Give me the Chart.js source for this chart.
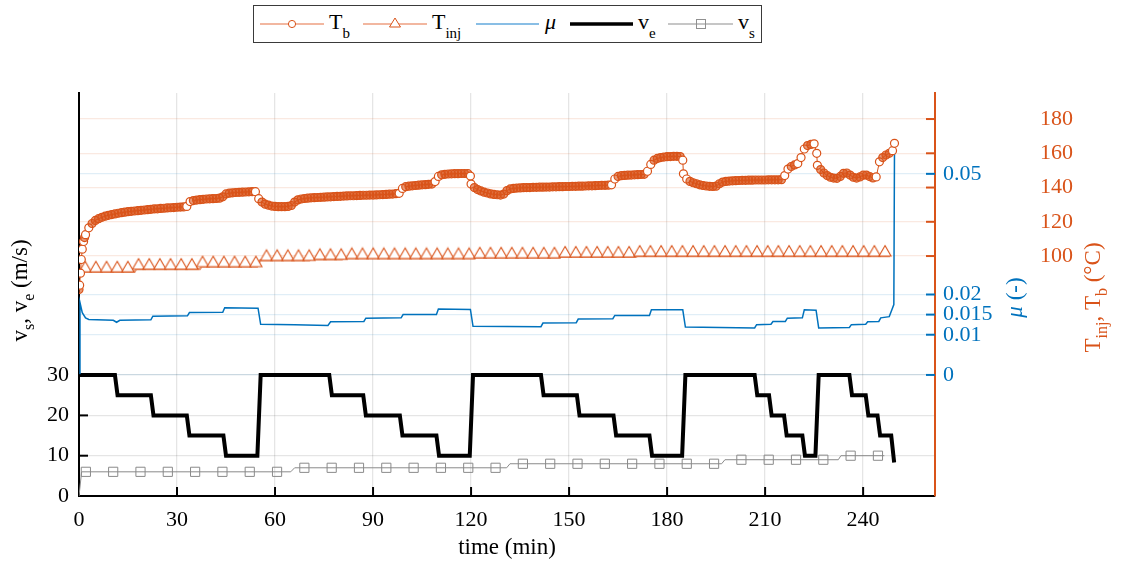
<!DOCTYPE html>
<html>
<head>
<meta charset="utf-8">
<script src="https://cdn.jsdelivr.net/npm/chart.js@4.4.1/dist/chart.umd.min.js"></script>
<style>
  body { margin: 0; background: #fff; }
  #wrap { position: relative; width: 1121px; height: 563px; }
  #legend { position: absolute; left: 253px; top: 5px; }
</style>
</head>
<body>
<div id="wrap">
  <canvas id="chart" width="1121" height="563"></canvas>
  <svg id="legend" width="510" height="39" font-family="Liberation Serif" font-size="22">
    <rect x="0.5" y="0.5" width="508" height="37" fill="#fff" stroke="#3a3a3a" stroke-width="1"/>
    <line x1="7" y1="19" x2="71" y2="19" stroke="#ee9f80" stroke-width="1.5"/>
    <circle cx="39" cy="19" r="3.6" fill="#fff" stroke="#D95319"/>
    <text x="76" y="24">T<tspan font-size="15" dy="9">b</tspan></text>
    <line x1="110" y1="19" x2="174" y2="19" stroke="#ee9f80" stroke-width="1.5"/>
    <polygon points="142,13 147.5,22 136.5,22" fill="#fff" stroke="#D95319"/>
    <text x="179" y="24">T<tspan font-size="15" dy="9">inj</tspan></text>
    <line x1="223" y1="19" x2="286" y2="19" stroke="#62a8dc" stroke-width="1.5"/>
    <text x="292" y="24" font-style="italic">μ</text>
    <line x1="317" y1="19" x2="380" y2="19" stroke="#000" stroke-width="3.5"/>
    <text x="385" y="24">v<tspan font-size="15" dy="9">e</tspan></text>
    <line x1="415" y1="19" x2="480" y2="19" stroke="#b3b3b3" stroke-width="1.5"/>
    <rect x="443.5" y="14.5" width="9" height="9" fill="none" stroke="#909090"/>
    <text x="485" y="24">v<tspan font-size="15" dy="9">s</tspan></text>
  </svg>
</div>
<script>
const ORANGE = "#D95319";
const BLUE = "#0072BD";

// axis ticks
const timeTicks = [0, 30, 60, 90, 120, 150, 180, 210, 240];
const vTicks = [0, 10, 20, 30];
const muTicks = [0, 0.01, 0.015, 0.02, 0.05];
const tempTicks = [100, 120, 140, 160, 180];

// T_b, one value per minute from t = 0 to 249
const tbPerMinute = [
  80.5, 104, 112.5, 116.5, 119, 120.8, 121.8, 122.6, 123.3, 123.8,
  124.2, 124.6, 125, 125.3, 125.6, 125.9, 126.1, 126.3, 126.5, 126.7,
  126.9, 127.1, 127.3, 127.5, 127.6, 127.8, 127.9, 128.1, 128.2, 128.3,
  128.5, 128.6, 128.7, 129, 131.8, 132.4, 132.7, 132.9, 133.1, 133.3,
  133.4, 133.5, 133.6, 133.8, 134.6, 136.3, 136.7, 136.9, 137.1, 137.2,
  137.3, 137.4, 137.5, 137.6, 137.6, 133.5, 131.5, 130.3, 129.7, 129.2,
  129, 128.8, 128.8, 128.8, 129, 129.5, 131.5, 132.8, 133.3, 133.6,
  133.8, 134, 134.1, 134.2, 134.3, 134.4, 134.5, 134.6, 134.7, 134.8,
  134.9, 135, 135.1, 135.2, 135.2, 135.3, 135.4, 135.5, 135.5, 135.6,
  135.6, 135.7, 135.8, 135.9, 136, 136.1, 136.2, 136.4, 136.6, 139.5,
  140.5, 140.8, 141, 141.2, 141.4, 141.6, 141.7, 141.9, 142, 143.5,
  146.5, 147.4, 147.7, 147.9, 148, 148.1, 148.1, 148.2, 148.2, 148.2,
  142, 140, 138.8, 138, 137.3, 136.8, 136.3, 136, 135.8, 135.6,
  136.2, 138.2, 139.2, 139.5, 139.7, 139.8, 139.9, 140, 140, 140.1,
  140.1, 140.2, 140.2, 140.3, 140.3, 140.4, 140.4, 140.5, 140.5, 140.6,
  140.6, 140.7, 140.7, 140.8, 140.8, 140.9, 141, 141, 141.1, 141.2,
  141.3, 141.3, 141.4, 141.6, 145, 146.5, 146.9, 147.1, 147.2, 147.3,
  147.4, 147.5, 147.6, 147.7, 149.5, 153.5, 156, 157, 157.5, 157.8,
  158, 158.1, 158.2, 158.2, 158.1, 148, 145, 143.6, 142.8, 142.2,
  141.6, 141.2, 140.9, 140.7, 140.6, 140.8, 142.2, 143.2, 143.6, 143.8,
  143.9, 144, 144.1, 144.2, 144.2, 144.3, 144.3, 144.4, 144.4, 144.4,
  144.4, 144.5, 144.5, 144.5, 144.5, 144.6, 147, 150.8, 152.3, 153.2,
  154, 157.5, 162.5, 164.5, 165.2, 165.5, 153, 150.5, 148.5, 147,
  146, 145.5, 145.4, 146.5, 148.3, 148.5, 147.3, 146, 145.5, 146.2,
  147.2, 147.3, 146.4, 145.6, 146.2, 155, 157.5, 159, 160, 161.5
];
// extra T_b samples on the fast transients [t, T]
const tbFast = [[0.2, 83], [0.45, 90], [0.7, 98], [1.4, 108.5], [1.7, 110.8],
  [119.8, 146.7], [184.8, 156], [225.8, 160], [249.6, 165.8]];

// T_inj line (t, T)
const tinjTime = [0, 17, 17.5, 37, 37.5, 54.5, 55.5, 70.5, 71, 80.5, 81, 121, 121.5, 147, 147.5, 170.5, 171, 248.2];
const tinjTemp = [90.8, 90.8, 92.4, 92.4, 93.8, 93.8, 97.5, 97.5, 98.1, 98.1, 98.6, 98.6, 99, 99, 99.5, 99.5, 100, 100];
// T_inj triangle markers, one every ~3.26 min from t = 1.9
const tinjMarks = [
  90.8, 90.8, 90.8, 90.8, 90.8,
  92.4, 92.4, 92.4, 92.4, 92.4, 92.4,
  93.8, 93.8, 93.8, 93.8, 93.8, 93.8,
  97.5, 97.5, 97.5, 97.5, 97.5,
  98.1, 98.1, 98.1,
  98.6, 98.6, 98.6, 98.6, 98.6, 98.6, 98.6, 98.6, 98.6, 98.6, 98.6, 98.6,
  99, 99, 99, 99, 99, 99, 99, 99,
  99.5, 99.5, 99.5, 99.5, 99.5, 99.5, 99.5,
  100, 100, 100, 100, 100, 100, 100, 100, 100, 100, 100, 100,
  100, 100, 100, 100, 100, 100, 100, 100, 100, 100, 100, 100
];

// friction coefficient mu
const muTime = [0, 0.3, 1, 2, 3, 10.5, 11.5, 12.5, 22, 22.6, 33.2, 33.8, 44, 44.6, 54.8, 55.6, 66, 76.2, 77,
  87.2, 87.8, 98.6, 99.2, 109.4, 110, 119.8, 120.6, 141.4, 142, 152.2, 152.8, 163.4, 164, 174.6, 175.2,
  184.8, 185.6, 206.8, 207.4, 211.8, 212.4, 216.2, 216.8, 221.4, 222, 225.6, 226.4, 235.8, 236.4,
  240.8, 241.4, 244.8, 245.4, 248, 248.8, 249.4, 249.6];
const muValue = [0, 0.018, 0.0155, 0.0142, 0.0138, 0.0136, 0.0131, 0.0136, 0.0137, 0.0146, 0.0147, 0.0155,
  0.0156, 0.0167, 0.0166, 0.0126, 0.0125, 0.0123, 0.0132, 0.0133, 0.0141, 0.0142, 0.015, 0.015, 0.0164,
  0.0163, 0.0121, 0.012, 0.0129, 0.013, 0.0139, 0.014, 0.0148, 0.0148, 0.0162, 0.0162, 0.0119, 0.0117,
  0.0125, 0.0126, 0.0133, 0.0133, 0.0141, 0.0142, 0.0162, 0.0161, 0.0117, 0.0118, 0.0125, 0.0126,
  0.0132, 0.0133, 0.0142, 0.0145, 0.0162, 0.0175, 0.0558];

// extrusion speed v_e
const veTime = [0, 11, 11.8, 22, 22.8, 33, 33.8, 44.2, 45, 54.6, 55.6, 76.6, 77.4, 87, 87.8, 98.2, 99,
  109.4, 110.2, 119.6, 120.6, 141.4, 142.2, 152.4, 153.2, 163.6, 164.4, 174.6, 175.4, 184.6, 185.6,
  206.8, 207.6, 211.2, 212, 215.8, 216.6, 221.4, 222.2, 225.4, 226.4, 235.8, 236.6, 240.8, 241.6,
  244.4, 245.2, 248.6, 249.5];
const veValue = [30, 30, 25, 25, 20, 20, 15, 15, 10, 10, 30, 30, 25, 25, 20, 20, 15, 15, 10, 10, 30, 30,
  25, 25, 20, 20, 15, 15, 10, 10, 30, 30, 25, 25, 20, 20, 15, 15, 10, 10, 30, 30, 25, 25, 20, 20, 15, 15, 8.3];

// sliding speed v_s
const vsTime = [0, 0.8, 64.8, 66, 130.9, 131.9, 196.7, 197.7, 232.4, 233.2, 246.5];
const vsValue = [0, 6, 6, 7, 7, 8, 8, 9, 9, 10, 10];
// v_s square markers, one every ~8.36 min from t = 2.1
const vsMarks = [6, 6, 6, 6, 6, 6, 6, 6, 7, 7, 7, 7, 7, 7, 7, 7,
  8, 8, 8, 8, 8, 8, 8, 8, 9, 9, 9, 9, 10, 10];

const pts = (xs, ys) => xs.map((x, i) => ({ x: x, y: ys[i] }));

let tbData = tbPerMinute.map((T, i) => ({ x: i, y: T }));
tbFast.forEach(p => tbData.push({ x: p[0], y: p[1] }));
tbData.sort((a, b) => a.x - b.x);

const tinjMarkData = tinjMarks.map((T, k) => ({ x: 1.9 + 3.264 * k, y: T }));
const vsMarkData = vsMarks.map((v, k) => ({ x: 2.1 + 8.36 * k, y: v }));

// circles stay white where the curve moves fast, dense band elsewhere
function tbFill(c) {
  const i = c.dataIndex;
  const d = tbData;
  if (!d[i]) return "#fff";
  const prev = i > 0 ? Math.abs(d[i].y - d[i - 1].y) : 0;
  const next = i < d.length - 1 ? Math.abs(d[i + 1].y - d[i].y) : 0;
  return Math.max(prev, next) > 2.5 ? "#fff" : "rgba(217,83,25,0.6)";
}

// triangle whose base sits on the data point
function triMarker() {
  const c = document.createElement("canvas");
  c.width = 14;
  c.height = 24;
  const g = c.getContext("2d");
  g.beginPath();
  g.moveTo(7, 1.5);
  g.lineTo(13, 12);
  g.lineTo(1, 12);
  g.closePath();
  g.fillStyle = "#fff";
  g.fill();
  g.strokeStyle = ORANGE;
  g.lineWidth = 1.1;
  g.stroke();
  return c;
}

const FONT = "Liberation Serif";

function drawRich(ctx, parts, x, y, color, rotate) {
  ctx.save();
  ctx.translate(x, y);
  if (rotate) ctx.rotate(-Math.PI / 2);
  ctx.fillStyle = color;
  ctx.textBaseline = "alphabetic";
  ctx.textAlign = "left";
  const fontFor = p => (p.it ? "italic " : "") + (p.sub ? 16 : 23) + 'px "' + FONT + '"';
  let w = 0;
  parts.forEach(p => { ctx.font = fontFor(p); p.w = ctx.measureText(p.t).width; w += p.w; });
  let cx = -w / 2;
  parts.forEach(p => { ctx.font = fontFor(p); ctx.fillText(p.t, cx, p.sub ? 7 : 0); cx += p.w; });
  ctx.restore();
}

const decor = {
  id: "decor",
  afterDraw(chart) {
    const { ctx, chartArea: a, scales: s } = chart;
    ctx.save();
    ctx.lineWidth = 2;
    const seg = (x1, y1, x2, y2, c) => {
      ctx.strokeStyle = c;
      ctx.beginPath(); ctx.moveTo(x1, y1); ctx.lineTo(x2, y2); ctx.stroke();
    };
    timeTicks.forEach(v => { if (v > 0) { const x = s.x.getPixelForValue(v); seg(x, a.bottom, x, a.bottom - 9, "#000"); } });
    vTicks.forEach(v => { if (v > 0) { const y = s.yV.getPixelForValue(v); seg(a.left, y, a.left + 9, y, "#000"); } });
    muTicks.forEach(v => { const y = s.yMu.getPixelForValue(v); seg(a.right, y, a.right - 9, y, BLUE); });
    tempTicks.forEach(v => { const y = s.yT.getPixelForValue(v); seg(a.right, y, a.right - 9, y, ORANGE); });
    ctx.restore();

    const midY = (a.top + a.bottom) / 2;
    drawRich(ctx, [{ t: "v" }, { t: "s", sub: 1 }, { t: ", v" }, { t: "e", sub: 1 }, { t: " (m/s)" }], 27, midY - 4, "#000", true);
    drawRich(ctx, [{ t: "μ", it: 1 }, { t: " (-)" }], 1022, midY + 3, BLUE, true);
    drawRich(ctx, [{ t: "T" }, { t: "inj", sub: 1 }, { t: ", T" }, { t: "b", sub: 1 }, { t: " (°C)" }], 1100, midY + 3, ORANGE, true);
    drawRich(ctx, [{ t: "time (min)" }], (a.left + a.right) / 2, 554, "#000", false);
  }
};

const tickFont = { family: FONT, size: 22 };

new Chart(document.getElementById("chart"), {
  type: "line",
  data: {
    datasets: [
      { data: tbData, yAxisID: "yT", borderColor: ORANGE, borderWidth: 1, pointRadius: 4,
        pointBorderWidth: 1.2, pointBorderColor: ORANGE, pointBackgroundColor: tbFill },
      { data: tinjMarkData, yAxisID: "yT", showLine: false, pointStyle: triMarker(), pointRadius: 6 },
      { data: pts(tinjTime, tinjTemp), yAxisID: "yT", borderColor: "rgba(217,83,25,0.6)", borderWidth: 2.2, pointRadius: 0 },
      { data: pts(muTime, muValue), yAxisID: "yMu", borderColor: BLUE, borderWidth: 1.5, pointRadius: 0 },
      { data: pts(veTime, veValue), yAxisID: "yV", borderColor: "#000", borderWidth: 4, pointRadius: 0 },
      { data: vsMarkData, yAxisID: "yV", showLine: false, pointStyle: "rect", pointRadius: 6.5,
        pointBorderColor: "#8a8a8a", pointBorderWidth: 1, pointBackgroundColor: "rgba(0,0,0,0)" },
      { data: pts(vsTime, vsValue), yAxisID: "yV", borderColor: "#8a8a8a", borderWidth: 1, pointRadius: 0 }
    ]
  },
  options: {
    responsive: false,
    animation: false,
    devicePixelRatio: 1,
    layout: { padding: { top: 93, left: 0, right: 0, bottom: 0 } },
    elements: { line: { tension: 0 } },
    plugins: { legend: { display: false }, tooltip: { enabled: false } },
    scales: {
      x: {
        type: "linear", min: 0, max: 262,
        afterBuildTicks: sc => { sc.ticks = timeTicks.map(v => ({ value: v })); },
        afterFit: sc => { sc.height = 67; },
        ticks: { color: "#000", font: tickFont, padding: 11, maxRotation: 0, callback: v => String(v) },
        grid: { color: "rgba(0,0,0,0.1)", lineWidth: 1.3, drawTicks: false },
        border: { display: true, color: "#000", width: 2 }
      },
      yV: {
        type: "linear", position: "left", min: 0, max: 100,
        afterBuildTicks: sc => { sc.ticks = vTicks.map(v => ({ value: v })); },
        afterFit: sc => { sc.width = 79; },
        ticks: { color: "#000", font: tickFont, padding: 10, callback: v => String(v) },
        grid: { color: "rgba(0,0,0,0.1)", lineWidth: 1.3, drawTicks: false },
        border: { display: true, color: "#000", width: 2 }
      },
      yMu: {
        type: "linear", position: "right", weight: 1, min: -0.0301, max: 0.0701,
        afterBuildTicks: sc => { sc.ticks = muTicks.map(v => ({ value: v })); },
        afterFit: sc => { sc.width = 90; },
        ticks: { color: BLUE, font: tickFont, padding: 8, callback: v => String(v) },
        grid: { color: "rgba(0,114,189,0.12)", lineWidth: 1.3, drawTicks: false },
        border: { display: true, color: ORANGE, width: 2 }
      },
      yT: {
        type: "linear", position: "right", weight: 2, min: -40.1, max: 195.2,
        afterBuildTicks: sc => { sc.ticks = tempTicks.map(v => ({ value: v })); },
        afterFit: sc => { sc.width = 96; },
        ticks: { color: ORANGE, font: tickFont, padding: 15, callback: v => String(v) },
        grid: { color: "rgba(217,83,25,0.13)", lineWidth: 1.3, drawTicks: false },
        border: { display: false }
      }
    }
  },
  plugins: [decor]
});
</script>
</body>
</html>
